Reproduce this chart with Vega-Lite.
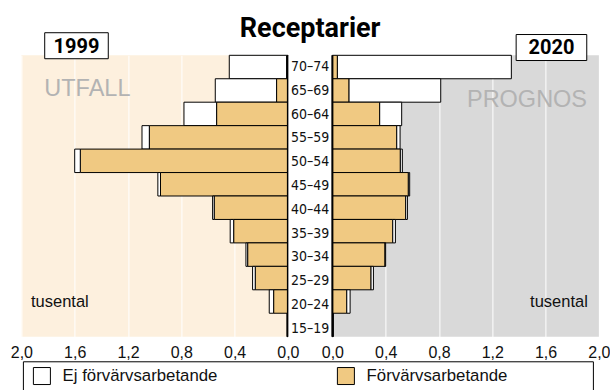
{
  "$schema": "https://vega.github.io/schema/vega-lite/v6.json",
  "padding": {"left": 9.4, "top": 14.3, "right": 0, "bottom": 0},
  "title": {"text": "Receptarier", "font": "Roboto", "fontSize": 27, "fontWeight": "bold", "color": "black", "anchor": "middle", "offset": -10.7},
  "data": {"values": [
    {"year": "1999", "age": "70–74", "type": "Förvärvsarbetande", "value": 0.01},
    {"year": "1999", "age": "70–74", "type": "Ej förvärvsarbetande", "value": 0.43},
    {"year": "1999", "age": "65–69", "type": "Förvärvsarbetande", "value": 0.085},
    {"year": "1999", "age": "65–69", "type": "Ej förvärvsarbetande", "value": 0.46},
    {"year": "1999", "age": "60–64", "type": "Förvärvsarbetande", "value": 0.535},
    {"year": "1999", "age": "60–64", "type": "Ej förvärvsarbetande", "value": 0.245},
    {"year": "1999", "age": "55–59", "type": "Förvärvsarbetande", "value": 1.04},
    {"year": "1999", "age": "55–59", "type": "Ej förvärvsarbetande", "value": 0.055},
    {"year": "1999", "age": "50–54", "type": "Förvärvsarbetande", "value": 1.558},
    {"year": "1999", "age": "50–54", "type": "Ej förvärvsarbetande", "value": 0.042},
    {"year": "1999", "age": "45–49", "type": "Förvärvsarbetande", "value": 0.956},
    {"year": "1999", "age": "45–49", "type": "Ej förvärvsarbetande", "value": 0.02},
    {"year": "1999", "age": "40–44", "type": "Förvärvsarbetande", "value": 0.553},
    {"year": "1999", "age": "40–44", "type": "Ej förvärvsarbetande", "value": 0.012},
    {"year": "1999", "age": "35–39", "type": "Förvärvsarbetande", "value": 0.407},
    {"year": "1999", "age": "35–39", "type": "Ej förvärvsarbetande", "value": 0.026},
    {"year": "1999", "age": "30–34", "type": "Förvärvsarbetande", "value": 0.302},
    {"year": "1999", "age": "30–34", "type": "Ej förvärvsarbetande", "value": 0.013},
    {"year": "1999", "age": "25–29", "type": "Förvärvsarbetande", "value": 0.245},
    {"year": "1999", "age": "25–29", "type": "Ej förvärvsarbetande", "value": 0.02},
    {"year": "1999", "age": "20–24", "type": "Förvärvsarbetande", "value": 0.107},
    {"year": "1999", "age": "20–24", "type": "Ej förvärvsarbetande", "value": 0.033},
    {"year": "1999", "age": "15–19", "type": "Förvärvsarbetande", "value": 0.005},
    {"year": "1999", "age": "15–19", "type": "Ej förvärvsarbetande", "value": 0},
    {"year": "2020", "age": "70–74", "type": "Förvärvsarbetande", "value": 0.0375},
    {"year": "2020", "age": "70–74", "type": "Ej förvärvsarbetande", "value": 1.3055},
    {"year": "2020", "age": "65–69", "type": "Förvärvsarbetande", "value": 0.125},
    {"year": "2020", "age": "65–69", "type": "Ej förvärvsarbetande", "value": 0.688},
    {"year": "2020", "age": "60–64", "type": "Förvärvsarbetande", "value": 0.355},
    {"year": "2020", "age": "60–64", "type": "Ej förvärvsarbetande", "value": 0.165},
    {"year": "2020", "age": "55–59", "type": "Förvärvsarbetande", "value": 0.483},
    {"year": "2020", "age": "55–59", "type": "Ej förvärvsarbetande", "value": 0.025},
    {"year": "2020", "age": "50–54", "type": "Förvärvsarbetande", "value": 0.51},
    {"year": "2020", "age": "50–54", "type": "Ej förvärvsarbetande", "value": 0.015},
    {"year": "2020", "age": "45–49", "type": "Förvärvsarbetande", "value": 0.57},
    {"year": "2020", "age": "45–49", "type": "Ej förvärvsarbetande", "value": 0.01},
    {"year": "2020", "age": "40–44", "type": "Förvärvsarbetande", "value": 0.55},
    {"year": "2020", "age": "40–44", "type": "Ej förvärvsarbetande", "value": 0.013},
    {"year": "2020", "age": "35–39", "type": "Förvärvsarbetande", "value": 0.453},
    {"year": "2020", "age": "35–39", "type": "Ej förvärvsarbetande", "value": 0.02},
    {"year": "2020", "age": "30–34", "type": "Förvärvsarbetande", "value": 0.395},
    {"year": "2020", "age": "30–34", "type": "Ej förvärvsarbetande", "value": 0.005},
    {"year": "2020", "age": "25–29", "type": "Förvärvsarbetande", "value": 0.29},
    {"year": "2020", "age": "25–29", "type": "Ej förvärvsarbetande", "value": 0.018},
    {"year": "2020", "age": "20–24", "type": "Förvärvsarbetande", "value": 0.108},
    {"year": "2020", "age": "20–24", "type": "Ej förvärvsarbetande", "value": 0.025},
    {"year": "2020", "age": "15–19", "type": "Förvärvsarbetande", "value": 0.005},
    {"year": "2020", "age": "15–19", "type": "Ej förvärvsarbetande", "value": 0}
  ]},
  "spacing": 0,
  "bounds": "flush",
  "resolve": {"scale": {"x": "independent", "y": "independent", "fill": "shared"}},
  "hconcat": [
    {
      "width": 266.5,
      "height": 281.4,
      "view": {"fill": "#fdf0de", "stroke": null},
      "layer": [
        {
          "transform": [{"filter": "datum.year == '1999'"}],
          "mark": {"type": "bar", "stroke": "black", "strokeWidth": 1},
          "encoding": {
            "y": {"field": "age", "type": "nominal", "sort": ["70–74","65–69","60–64","55–59","50–54","45–49","40–44","35–39","30–34","25–29","20–24","15–19"], "scale": {"paddingInner": 0, "paddingOuter": 0}, "axis": null},
            "x": {"field": "value", "type": "quantitative", "stack": "zero", "scale": {"domain": [0, 2], "reverse": true, "nice": false, "zero": true},
              "axis": {"title": null, "values": [0, 0.4, 0.8, 1.2, 1.6, 2], "labelExpr": "replace(format(datum.value, '.1f'), '.', ',')", "domain": false, "ticks": false, "grid": true, "gridColor": "white", "gridWidth": 1, "labelFont": "Liberation Sans", "labelFontSize": 16, "labelColor": "#111111", "labelPadding": 8, "labelFlush": false, "labelOverlap": false}},
            "fill": {"field": "type", "type": "nominal",
              "scale": {"domain": ["Ej förvärvsarbetande", "Förvärvsarbetande"], "range": ["#ffffff", "#f0c982"]},
              "legend": {"title": "\u00a0", "titleOrient": "right", "titlePadding": 80, "orient": "none", "legendX": 1.5, "legendY": 306, "direction": "horizontal", "columns": 2, "columnPadding": 114, "symbolType": "square", "symbolSize": 289, "symbolStrokeColor": "black", "symbolStrokeWidth": 1, "symbolOffset": 4.5, "labelFont": "Liberation Sans", "labelFontSize": 16.8, "labelColor": "#111111", "labelOffset": 11.7, "labelLimit": 300, "padding": 5.5, "strokeColor": "black", "fillColor": "white"}},
            "order": {"field": "type", "sort": "descending"}
          }
        },
        {
          "data": {"values": [{"label": "0"}]},
          "mark": {"type": "rule", "color": "black", "strokeWidth": 2},
          "encoding": {"x": {"datum": 0}}
        },
        {
          "data": {"values": [{"label": "UTFALL"}]},
          "mark": {"type": "text", "font": "Liberation Sans", "fontSize": 23.5, "color": "#b3b3b3", "align": "left", "baseline": "alphabetic", "dy": 5.6},
          "encoding": {"x": {"datum": 1.828}, "y": {"datum": "65–69"}, "text": {"field": "label"}}
        },
        {
          "data": {"values": [{"label": "tusental"}]},
          "mark": {"type": "text", "font": "Liberation Sans", "fontSize": 16.5, "color": "#111111", "align": "left", "baseline": "alphabetic", "dy": 5.5},
          "encoding": {"x": {"datum": 1.928}, "y": {"datum": "20–24"}, "text": {"field": "label"}}
        },
        {
          "data": {"values": [{"label": "1999"}]},
          "mark": {"type": "bar", "fill": "white", "stroke": "black", "strokeWidth": 1, "height": 26, "yOffset": -21.3},
          "encoding": {"x": {"datum": 1.825}, "x2": {"datum": 1.348}, "y": {"datum": "70–74"}}
        },
        {
          "data": {"values": [{"label": "1999"}]},
          "mark": {"type": "text", "font": "Roboto", "fontSize": 20, "fontWeight": "bold", "color": "black", "align": "center", "baseline": "middle", "yOffset": -20.5},
          "encoding": {"x": {"datum": 1.587}, "y": {"datum": "70–74"}, "text": {"field": "label"}}
        }
      ]
    },
    {
      "width": 43.5,
      "height": 285.2,
      "view": {"fill": "white", "stroke": null},
      "transform": [{"filter": "datum.year == '1999' && datum.type == 'Förvärvsarbetande'"}],
      "mark": {"type": "text", "font": "DejaVu Sans Condensed, Liberation Sans", "fontSize": 14, "color": "#111111", "baseline": "middle"},
      "encoding": {
        "y": {"field": "age", "type": "nominal", "sort": ["70–74","65–69","60–64","55–59","50–54","45–49","40–44","35–39","30–34","25–29","20–24","15–19"], "scale": {"paddingInner": 0, "paddingOuter": 0}, "axis": null},
        "text": {"field": "age"}
      }
    },
    {
      "width": 266.5,
      "height": 281.4,
      "view": {"fill": "#d9d9d9", "stroke": null},
      "layer": [
        {
          "transform": [{"filter": "datum.year == '2020'"}],
          "mark": {"type": "bar", "stroke": "black", "strokeWidth": 1},
          "encoding": {
            "y": {"field": "age", "type": "nominal", "sort": ["70–74","65–69","60–64","55–59","50–54","45–49","40–44","35–39","30–34","25–29","20–24","15–19"], "scale": {"paddingInner": 0, "paddingOuter": 0}, "axis": null},
            "x": {"field": "value", "type": "quantitative", "stack": "zero", "scale": {"domain": [0, 2], "nice": false, "zero": true},
              "axis": {"title": null, "values": [0, 0.4, 0.8, 1.2, 1.6, 2], "labelExpr": "replace(format(datum.value, '.1f'), '.', ',')", "domain": false, "ticks": false, "grid": true, "gridColor": "white", "gridWidth": 1, "labelFont": "Liberation Sans", "labelFontSize": 16, "labelColor": "#111111", "labelPadding": 8, "labelFlush": false, "labelOverlap": false}},
            "fill": {"field": "type", "type": "nominal",
              "scale": {"domain": ["Ej förvärvsarbetande", "Förvärvsarbetande"], "range": ["#ffffff", "#f0c982"]}},
            "order": {"field": "type", "sort": "descending"}
          }
        },
        {
          "data": {"values": [{"label": "0"}]},
          "mark": {"type": "rule", "color": "black", "strokeWidth": 2},
          "encoding": {"x": {"datum": 0}}
        },
        {
          "data": {"values": [{"label": "PROGNOS"}]},
          "mark": {"type": "text", "font": "Liberation Sans", "fontSize": 23.5, "color": "#b3b3b3", "align": "right", "baseline": "alphabetic", "dy": -6.8},
          "encoding": {"x": {"datum": 1.911}, "y": {"datum": "60–64"}, "text": {"field": "label"}}
        },
        {
          "data": {"values": [{"label": "tusental"}]},
          "mark": {"type": "text", "font": "Liberation Sans", "fontSize": 16.5, "color": "#111111", "align": "right", "baseline": "alphabetic", "dy": 5.5},
          "encoding": {"x": {"datum": 1.917}, "y": {"datum": "20–24"}, "text": {"field": "label"}}
        },
        {
          "data": {"values": [{"label": "2020"}]},
          "mark": {"type": "bar", "fill": "white", "stroke": "black", "strokeWidth": 1, "height": 26, "yOffset": -19.5},
          "encoding": {"x": {"datum": 1.379}, "x2": {"datum": 1.909}, "y": {"datum": "70–74"}}
        },
        {
          "data": {"values": [{"label": "2020"}]},
          "mark": {"type": "text", "font": "Roboto", "fontSize": 20, "fontWeight": "bold", "color": "black", "align": "center", "baseline": "middle", "yOffset": -19},
          "encoding": {"x": {"datum": 1.644}, "y": {"datum": "70–74"}, "text": {"field": "label"}}
        }
      ]
    }
  ],
  "config": {"view": {"stroke": null}, "font": "Liberation Sans"}
}
